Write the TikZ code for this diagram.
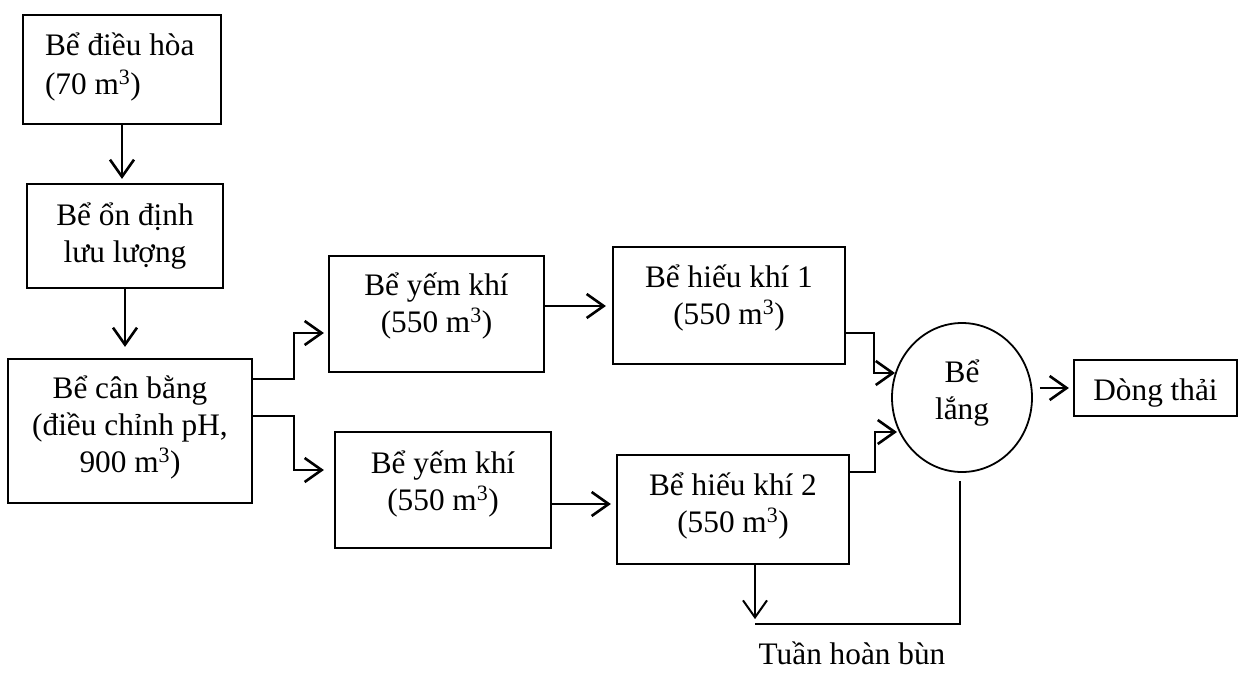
\documentclass[tikz,border=0pt]{standalone}
\usepackage{fontspec}
\setmainfont{Liberation Serif}
\usetikzlibrary{arrows.meta,calc,shapes.geometric}

% text block of fixed size: width, height, first baseline below the top, lines
\newcommand{\tankbody}[4]{\parbox[c][#2][t]{#1}{\centering\rule{0pt}{#3}#4}}

\tikzset{
  tank/.style={draw, rectangle, line width=2.2pt, inner sep=0pt},
  settler/.style={draw, ellipse, line width=1.8pt, inner sep=0pt,
                  minimum width=140pt, minimum height=149pt},
  flow/.style={line width=2.6pt, -{Straight Barb[length=17pt,width=24pt]}},
  sludge/.style={line width=1.8pt},
}

\begin{document}
\begin{tikzpicture}[x=1pt, y=-1pt, font=\fontsize{31.3pt}{37pt}\selectfont]
\fill[white] (0,0) rectangle (1238,672);
\useasboundingbox (0,0) rectangle (1238,672);

% treatment units
\node[tank] (b1) at (122,69.5)
  {\parbox[c][109pt][t]{198pt}{\raggedright\leftskip=22pt\rule{0pt}{40pt}Bể điều hòa\\[2pt](70 m\textsuperscript{3})}};
\node[tank] (b2) at (125,236)
  {\tankbody{196pt}{104pt}{41pt}{Bể ổn định\\lưu lượng}};
\node[tank] (b3) at (130,431)
  {\tankbody{244pt}{144pt}{39pt}{Bể cân bằng\\(điều chỉnh pH,\\900 m\textsuperscript{3})}};
\node[tank] (b4) at (436.5,314)
  {\tankbody{215pt}{116pt}{39pt}{Bể yếm khí\\(550 m\textsuperscript{3})}};
\node[tank] (b5) at (443,490)
  {\tankbody{216pt}{116pt}{41pt}{Bể yếm khí\\(550 m\textsuperscript{3})}};
\node[tank] (b6) at (729,305.5)
  {\tankbody{232pt}{117pt}{40pt}{Bể hiếu khí 1\\(550 m\textsuperscript{3})}};
\node[tank] (b7) at (733,509.5)
  {\tankbody{232pt}{109pt}{40pt}{Bể hiếu khí 2\hspace*{18pt}\\(550 m\textsuperscript{3})}};
\node[settler] (c) at (962,397.5)
  {\tankbody{60pt}{100pt}{34.5pt}{Bể\\lắng}};
\node[tank] (b8) at (1155.5,388)
  {\tankbody{163pt}{56pt}{40pt}{Dòng thải}};
\node[anchor=base, inner sep=0pt] (rc) at (852,664) {Tuần hoàn bùn};

% main line
\draw[flow, shorten >=4pt] (b1.south) -- (b1.south |- b2.north);
\draw[flow, shorten >=11pt] (b2.south) -- (b2.south |- b3.north);

% split into two anaerobic trains
\draw[flow, shorten >=4pt] ($(b3.north east)+(0,21)$) -- ++(41,0) |- ($(b4.west)+(0,19)$);
\draw[flow, shorten >=10pt] ($(b3.north east)+(0,58)$) -- ++(41,0) |- ($(b5.west)+(0,-20)$);

\draw[flow, shorten >=6pt] ($(b4.east)+(0,-8)$) -- ($(b6.west)+(0,0.5)$);
\draw[flow, shorten >=5pt] ($(b5.east)+(0,14)$) -- ($(b7.west)+(0,-5.5)$);

% into the settler
\draw[flow] ($(b6.east)+(0,27.5)$) -- ++(28,0) |- ($(c.center)+(-67,-24.5)$);
\draw[flow] ($(b7.east)+(0,-37.5)$) -- ++(25,0) |- ($(c.center)+(-65,34.5)$);

% effluent
\draw[flow, shorten <=7pt, shorten >=4pt] (c.east |- b8.west) -- (b8.west);

% sludge return
\coordinate (r) at ($(b7.south)+(22,59)$);
\draw[sludge, shorten <=8pt] ($(c.south)+(-2,0)$) -- ($(c.south |- r)+(-2,0)$) -- (r);
\draw[flow, line width=2pt] ($(b7.south)+(22,0)$) -- ($(r)+(0,-5)$);
\end{tikzpicture}
\end{document}
